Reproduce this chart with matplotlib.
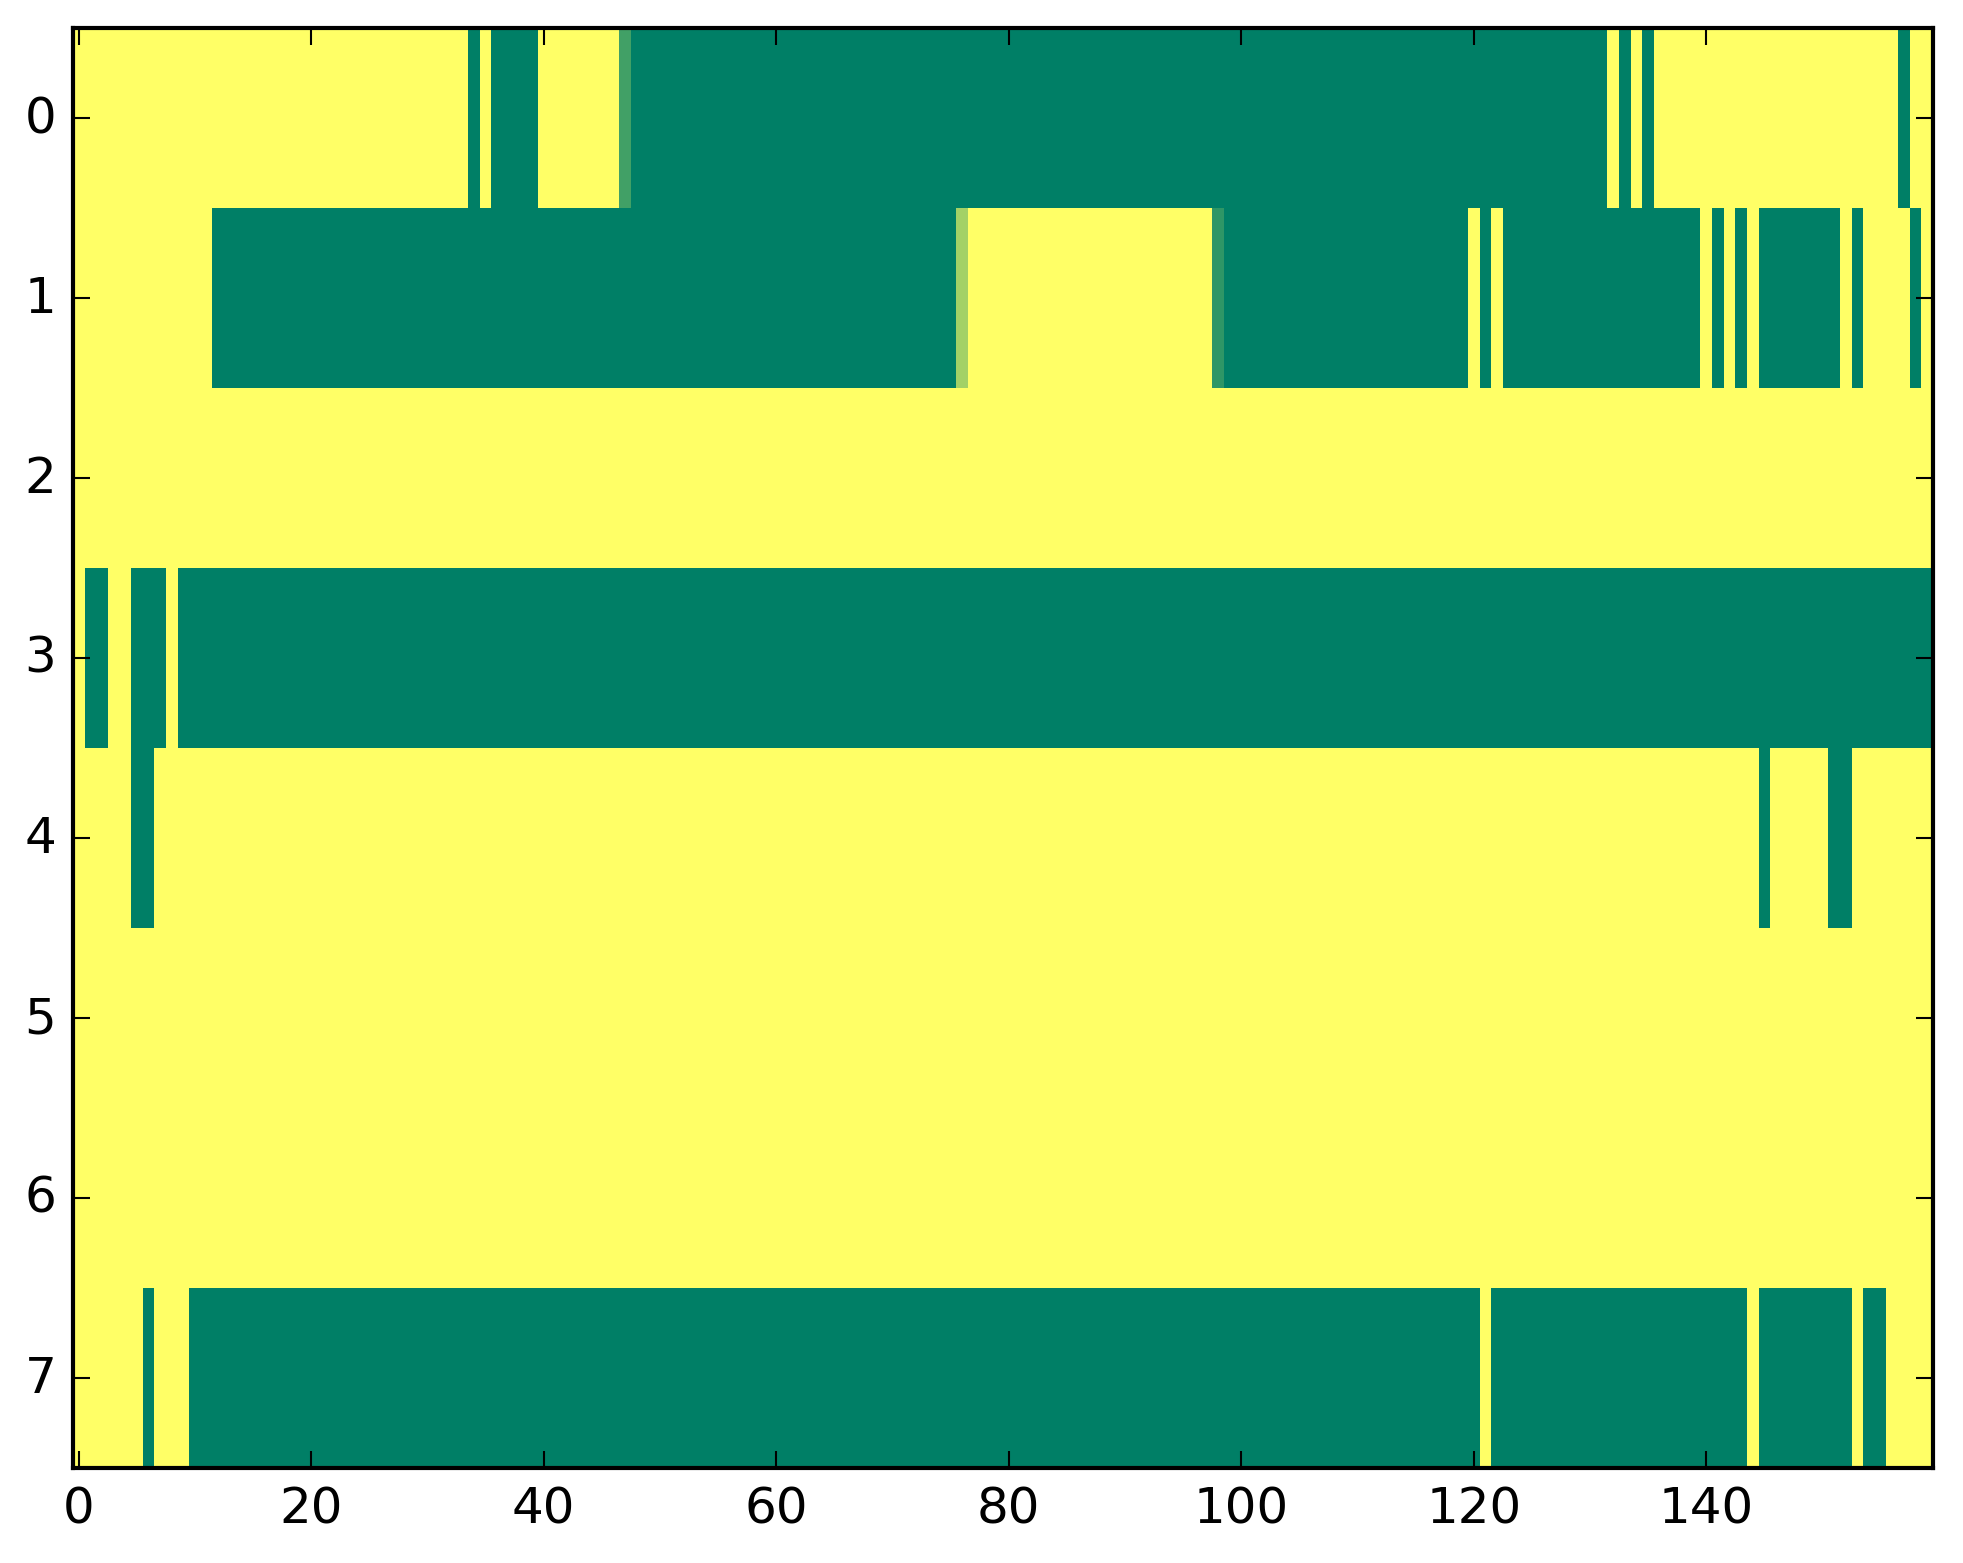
import numpy as np
import matplotlib
matplotlib.use("Agg")
import matplotlib.pyplot as plt

plt.style.use('classic')

n_rows = 8
n_cols = 160

# green (value 0) runs per row, inclusive column ranges; everything else is 1
green_runs = {
    0: [(34, 34), (36, 39), (48, 131), (133, 133), (135, 135), (157, 157)],
    1: [(12, 75), (99, 119), (121, 121), (123, 139), (141, 141), (143, 143),
        (145, 151), (153, 153), (158, 158)],
    2: [],
    3: [(1, 2), (5, 7), (9, 159)],
    4: [(5, 6), (145, 145), (151, 152)],
    5: [],
    6: [],
    7: [(6, 6), (10, 120), (122, 143), (145, 152), (154, 155)],
}
# cells with in-between values (row, col) -> value
partial_cells = {(0, 47): 0.26, (1, 76): 0.64, (1, 98): 0.18}

data = np.ones((n_rows, n_cols))
for r, runs in green_runs.items():
    for a, b in runs:
        data[r, a:b + 1] = 0.0
for (r, c), v in partial_cells.items():
    data[r, c] = v

fig = plt.figure(figsize=(1963 / 300, 1564 / 300), dpi=300)
ax = fig.add_axes([73 / 1963, 95 / 1564, 1860 / 1963, 1440 / 1564])
ax.imshow(data, cmap='summer', aspect='auto', interpolation='nearest',
          vmin=0, vmax=1)
ax.set_xticks(np.arange(0, 141, 20))
ax.set_yticks(np.arange(0, 8))

fig.savefig('out.png', dpi=300)
